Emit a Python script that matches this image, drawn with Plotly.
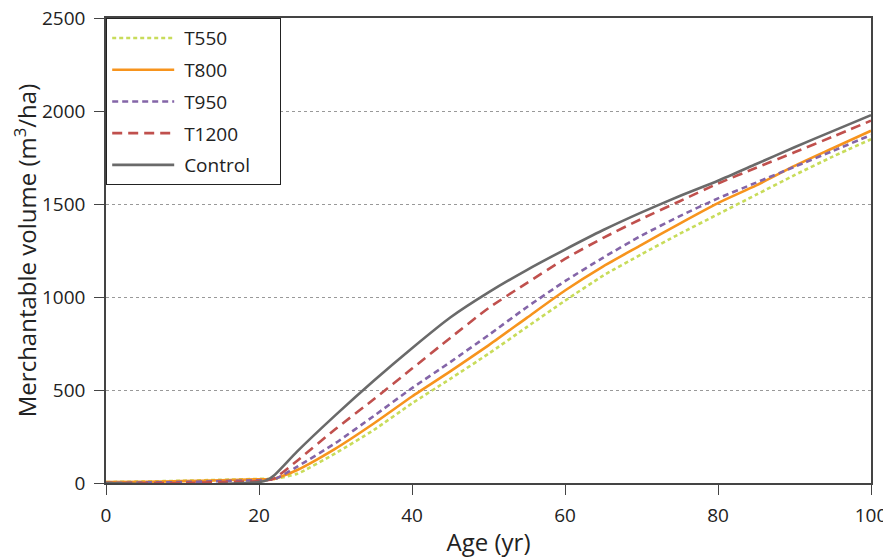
import plotly.graph_objects as go

age = [0, 5, 10, 15, 20, 21, 22, 25, 30, 35, 40, 45, 50, 55, 60, 65, 70, 75, 80, 85, 90, 95, 100]

t550 = [5, 8, 12, 17, 22, 22, 22, 50, 160, 285, 428, 560, 695, 838, 980, 1115, 1230, 1340, 1445, 1550, 1655, 1755, 1848]
t800 = [5, 7, 10, 15, 20, 20, 22, 70, 185, 320, 465, 600, 740, 888, 1035, 1165, 1280, 1395, 1505, 1600, 1705, 1800, 1894]
t950 = [0, 3, 5, 10, 15, 17, 20, 88, 215, 360, 510, 650, 795, 945, 1085, 1212, 1330, 1435, 1530, 1615, 1700, 1785, 1871]
t1200 = [0, 0, 0, 5, 10, 15, 25, 120, 290, 450, 615, 780, 940, 1075, 1205, 1318, 1420, 1515, 1610, 1695, 1778, 1862, 1948]
control = [0, -5, -8, -5, 5, 15, 42, 170, 365, 550, 725, 890, 1025, 1145, 1255, 1360, 1455, 1543, 1625, 1715, 1805, 1892, 1978]

series = [
    ("T550", t550, "#c8dc5a", "4px,3px"),
    ("T800", t800, "#f7941d", "solid"),
    ("T950", t950, "#8465a8", "6px,4px"),
    ("T1200", t1200, "#c0504d", "10px,6px"),
    ("Control", control, "#6a6a6a", "solid"),
]

NB = "\u00a0"
fig = go.Figure()
for name, ys, color, dash in series:
    label = NB + name + (NB * 5 if name == "Control" else "")
    fig.add_trace(go.Scatter(
        x=age, y=ys, name=label, mode="lines", legendgroup=name,
        line=dict(color=color, width=2.6, dash=dash, shape="spline", smoothing=0.6),
    ))

# page body has an 8px margin: shrink the figure so the plot area lands where the reference has it
fig.update_layout(
    width=883, height=552,
    margin=dict(l=98, r=20, t=10, b=77, autoexpand=False),
    paper_bgcolor="white", plot_bgcolor="white",
    font=dict(family="Open Sans, Noto Sans, sans-serif", color="#222", size=19),
    showlegend=True,
    legend=dict(
        x=0, y=1, xanchor="left", yanchor="top",
        bgcolor="white", bordercolor="#222", borderwidth=1.2,
        font=dict(size=19, color="#222"),
        itemwidth=62, tracegroupgap=4,
    ),
    xaxis=dict(
        range=[0, 100], tickvals=[0, 20, 40, 60, 80, 100],
        showgrid=False, zeroline=False,
        showline=True, linecolor="#444", linewidth=1.5, mirror=True,
        ticks="outside", ticklen=10, tickcolor="#444",
        tickfont=dict(size=19), ticklabelstandoff=4, ticklabeloverflow="allow",
        title=dict(text="Age (yr)", font=dict(size=24), standoff=8),
    ),
    yaxis=dict(
        range=[0, 2500], tickvals=[0, 500, 1000, 1500, 2000, 2500],
        showgrid=True, gridcolor="#999", griddash="dot", gridwidth=1,
        zeroline=False,
        showline=True, linecolor="#444", linewidth=1.5, mirror=True,
        ticks="outside", ticklen=10, tickcolor="#444",
        tickfont=dict(size=19), ticklabelstandoff=5, ticklabeloverflow="allow",
        title=dict(text="Merchantable volume (m<sup>3</sup>/ha)", font=dict(size=24), standoff=16),
    ),
)

fig.write_html("out.html")
